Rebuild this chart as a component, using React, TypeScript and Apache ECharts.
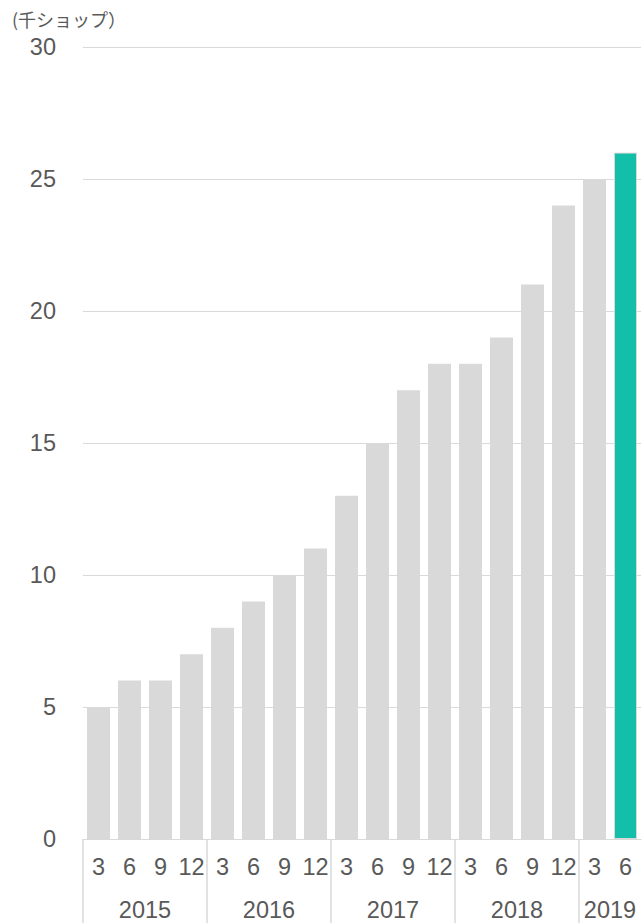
import React, { useEffect, useRef } from "react";
import * as echarts from "echarts";

// Shop counts (thousands) by quarter-end month
const periods = [
  "2015/3", "2015/6", "2015/9", "2015/12",
  "2016/3", "2016/6", "2016/9", "2016/12",
  "2017/3", "2017/6", "2017/9", "2017/12",
  "2018/3", "2018/6", "2018/9", "2018/12",
  "2019/3", "2019/6",
];
const shops = [5, 6, 6, 7, 8, 9, 10, 11, 13, 15, 17, 18, 18, 19, 21, 24, 25, 26];
const years = ["2015", "2016", "2017", "2018", "2019"];
// year group centres and boundaries on a 0..18 scale
const yearCenters = [2, 6, 10, 14, 17];
const yearBounds = [0, 4, 8, 12, 16];
const yTicks = { min: 0, max: 30, interval: 5 };
const unitLabel = "(千ショップ）";

const GRAY = "#d9d9d9";
const TEXT = "#595959";
const TEAL = "#13bfa8";
const FONT = "'Liberation Sans', Arial, 'Noto Sans CJK JP', sans-serif";
const LABEL_SIZE = 23.5;

export default function App() {
  const ref = useRef<HTMLDivElement>(null);

  useEffect(() => {
    if (!ref.current) return;
    const chart = echarts.init(ref.current, undefined, { renderer: "svg" });
    const last = shops.length - 1;
    chart.setOption({
      animation: false,
      textStyle: { fontFamily: FONT },
      graphic: [
        {
          type: "text",
          left: 12,
          top: 10,
          style: {
            text: unitLabel,
            fontSize: 18,
            fill: TEXT,
            fontFamily: "'Noto Sans CJK JP', sans-serif",
          },
        },
      ],
      grid: { left: 83, right: 1, top: 47, bottom: 84 },
      xAxis: [
        {
          type: "category",
          data: periods,
          axisLine: { show: true, lineStyle: { color: GRAY, width: 1 } },
          axisTick: { show: false },
          axisLabel: {
            fontSize: LABEL_SIZE,
            fontFamily: FONT,
            color: TEXT,
            margin: 16,
            interval: 0,
            formatter: (v: string) => v.split("/")[1],
          },
        },
        {
          type: "value",
          position: "bottom",
          min: 0,
          max: periods.length,
          axisLine: { show: false },
          splitLine: { show: false },
          axisTick: {
            show: true,
            customValues: yearBounds,
            length: 84,
            lineStyle: { color: GRAY, width: 1.5 },
          },
          axisLabel: {
            customValues: yearCenters,
            fontSize: LABEL_SIZE,
            fontFamily: FONT,
            color: TEXT,
            margin: 59,
            formatter: (v: number) => {
              const i = yearCenters.indexOf(v);
              return i >= 0 ? years[i] : "";
            },
          },
        },
      ],
      yAxis: {
        type: "value",
        min: yTicks.min,
        max: yTicks.max,
        interval: yTicks.interval,
        axisLine: { show: false },
        axisTick: { show: false },
        axisLabel: { fontSize: LABEL_SIZE, fontFamily: FONT, color: TEXT, margin: 27 },
        splitLine: { lineStyle: { color: GRAY, width: 1 } },
      },
      series: [
        {
          type: "bar",
          xAxisIndex: 0,
          barWidth: 23,
          data: shops.map((v, i) =>
            i === last
              ? { value: v, itemStyle: { color: TEAL, borderColor: GRAY, borderWidth: 1 } }
              : { value: v, itemStyle: { color: GRAY } }
          ),
        },
      ],
    });
    return () => chart.dispose();
  }, []);

  return (
    <div
      ref={ref}
      style={{ position: "fixed", left: 0, top: 0, width: 642, height: 923, background: "#fff" }}
    />
  );
}
